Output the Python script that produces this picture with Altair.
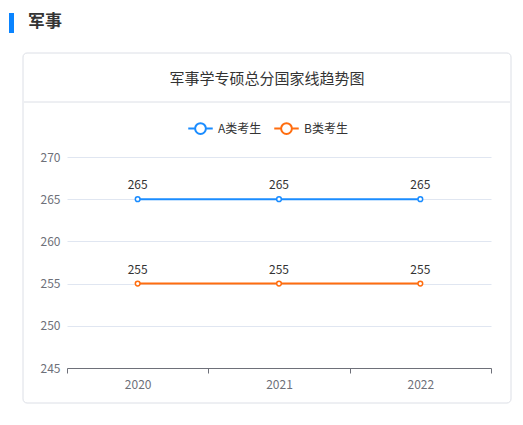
import altair as alt
import pandas as pd

years = ["2020", "2021", "2022"]
a_scores = [265, 265, 265]
b_scores = [255, 255, 255]
series_names = ["A类考生", "B类考生"]
series_colors = ["#1a8cff", "#ff6d0f"]

rows = []
for name, vals in zip(series_names, [a_scores, b_scores]):
    for y, v in zip(years, vals):
        rows.append({"year": y, "score": v, "series": name})
df = pd.DataFrame(rows)

FONT = "Noto Sans CJK SC"
# plot area origin on the page
OX, OY = 67, 157
W, H = 424, 211

x_enc = alt.X("year:N", title=None, sort=years,
              scale=alt.Scale(paddingInner=0, paddingOuter=0),
              axis=alt.Axis(labelAngle=0, tickBand="extent", domainColor="#6e7079",
                            tickColor="#6e7079", tickSize=5, labelColor="#6e7079",
                            labelFontSize=12, labelPadding=6, grid=False))
y_enc = alt.Y("score:Q", title=None,
              scale=alt.Scale(domain=[245, 270], nice=False, zero=False),
              axis=alt.Axis(values=[245, 250, 255, 260, 265, 270], domain=False, ticks=False,
                            gridColor="#e0e6f1", labelColor="#6e7079", labelFontSize=12,
                            labelPadding=7))

legend_path = ("M-1,0H-0.44M0.44,0H1M-0.44,0A0.44,0.44 0 1,1 0.44,0"
               "A0.44,0.44 0 1,1 -0.44,0")
color_scale = alt.Scale(domain=series_names, range=series_colors)

base = alt.Chart(df).encode(x=x_enc, y=y_enc)

line = base.mark_line(strokeWidth=2).encode(
    color=alt.Color("series:N", scale=color_scale, title=None,
                    legend=alt.Legend(orient="none", legendX=189 - OX - 2, legendY=115 - OY,
                                      direction="horizontal", symbolType=legend_path,
                                      symbolSize=600, symbolStrokeWidth=2,
                                      symbolFillColor="white", labelFontSize=12,
                                      labelColor="#333333", labelFont=FONT,
                                      columnPadding=8, symbolOffset=0))
)

points = base.mark_point(shape="circle", fill="white", fillOpacity=1, strokeWidth=1.5,
                         size=22, opacity=1).encode(
    stroke=alt.Stroke("series:N", scale=color_scale, legend=None)
)

labels = base.mark_text(dy=-14, fontSize=12, color="#333333", font=FONT).encode(
    text="score:Q"
)

one = pd.DataFrame({"k": [0]})

card = alt.Chart(one).mark_rect(fill="transparent", stroke="#dcdfe6", strokeWidth=1,
                                cornerRadius=4).encode(
    x=alt.value(23 - OX), x2=alt.value(511 - OX),
    y=alt.value(53 - OY), y2=alt.value(403 - OY))

divider = alt.Chart(one).mark_rule(color="#dcdfe6", strokeWidth=1).encode(
    x=alt.value(24 - OX), x2=alt.value(510 - OX), y=alt.value(102 - OY))

bar = alt.Chart(one).mark_rect(color="#0a84ff").encode(
    x=alt.value(9 - OX), x2=alt.value(14 - OX), y=alt.value(13 - OY), y2=alt.value(33 - OY))

header = alt.Chart(one).mark_text(text="军事", fontSize=17, fontWeight="bold", color="#333333",
                                  font=FONT, align="left", baseline="middle").encode(
    x=alt.value(28 - OX), y=alt.value(22 - OY))

title = alt.Chart(one).mark_text(text="军事学专硕总分国家线趋势图", fontSize=15, color="#333333",
                                 font=FONT, align="center", baseline="middle").encode(
    x=alt.value(267 - OX), y=alt.value(79 - OY))

chart = alt.layer(card, divider, bar, header, title, line, points, labels).properties(
    width=W, height=H,
    autosize=alt.AutoSizeParams(type="none"),
    padding={"left": OX - 8, "top": OY - 8, "right": 515 - (OX + W), "bottom": 417 - (OY + H)},
).configure(font=FONT).configure_view(stroke=None)

chart.save("out.html", embed_options={"renderer": "svg", "actions": False})
